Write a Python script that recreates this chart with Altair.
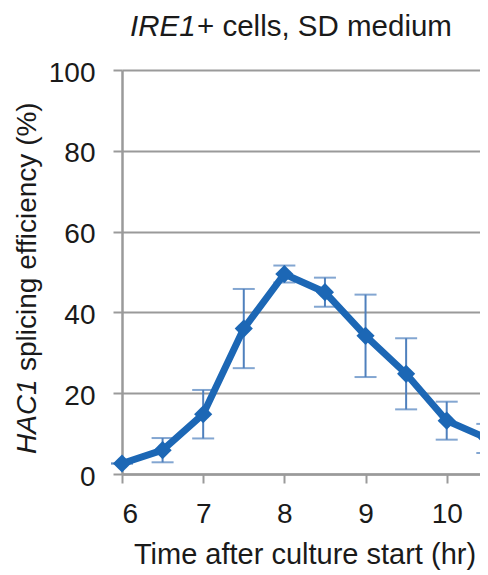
import altair as alt
import pandas as pd

# ---- data ----
time_hr = [6, 6.5, 7, 7.5, 8, 8.5, 9, 9.5, 10, 10.5]
efficiency = [2.6, 5.9, 14.8, 36.0, 49.5, 45.0, 34.2, 24.8, 13.2, 8.8]
error = [0.0, 3.0, 6.0, 9.8, 2.1, 3.6, 10.2, 8.8, 4.7, 3.6]
y_ticks = [0, 20, 40, 60, 80, 100]
x_ticks = [6, 7, 8, 9, 10]

df = pd.DataFrame({"t": time_hr, "eff": efficiency, "err": error})
df["lo"] = df["eff"] - df["err"]
df["hi"] = df["eff"] + df["err"]

FONT = "Liberation Sans"
LINE = "#1c67b5"
ERR = "#4f80bd"
GRID = "#9a9a9a"
TXT = "#1a1a1a"

W, H = 358, 404

xs = alt.Scale(domain=[6, 10.41], nice=False, zero=False)
ys = alt.Scale(domain=[0, 100], nice=False)

x_axis = alt.Axis(
    values=x_ticks, grid=False, title=None, format="d",
    domainColor=GRID, domainWidth=2.5, tickColor=GRID, tickWidth=2, tickSize=9,
    labelFont=FONT, labelFontSize=28, labelColor=TXT, labelPadding=17,
)
y_axis = alt.Axis(
    values=y_ticks, grid=True, title=None, format="d",
    gridColor=GRID, gridWidth=2, gridOpacity=1,
    domainColor=GRID, domainWidth=2.5, tickColor=GRID, tickWidth=2, tickSize=9,
    labelFont=FONT, labelFontSize=28, labelColor=TXT, labelPadding=18,
    labelOffset=3,
)

base = alt.Chart(df)

errbars = base.mark_errorbar(
    ticks={"size": 22}, thickness=2, color=ERR
).encode(
    x=alt.X("t:Q", scale=xs, axis=x_axis),
    y=alt.Y("lo:Q", scale=ys, axis=y_axis),
    y2="hi:Q",
)

line = base.mark_line(color=LINE, strokeWidth=7).encode(
    x=alt.X("t:Q", scale=xs, axis=x_axis),
    y=alt.Y("eff:Q", scale=ys, axis=y_axis),
)

points = base.mark_point(
    shape="diamond", filled=True, size=330, color=LINE, opacity=1
).encode(
    x=alt.X("t:Q", scale=xs, axis=x_axis),
    y=alt.Y("eff:Q", scale=ys, axis=y_axis),
)

one = pd.DataFrame({"a": [0]})
tb = alt.Chart(one)

title_it = tb.mark_text(
    text="IRE1", font=FONT, fontSize=29.5, fontStyle="italic",
    align="left", baseline="alphabetic", color=TXT
).encode(x=alt.value(8), y=alt.value(-34))
title_rest = tb.mark_text(
    text="+ cells, SD medium", font=FONT, fontSize=29.5,
    align="left", baseline="alphabetic", color=TXT
).encode(x=alt.value(75), y=alt.value(-34))

xtitle = tb.mark_text(
    text="Time after culture start (hr)", font=FONT, fontSize=29,
    align="center", baseline="alphabetic", color=TXT
).encode(x=alt.value(183), y=alt.value(494))

ytitle_it = tb.mark_text(
    text="HAC1", font=FONT, fontSize=28, fontStyle="italic", angle=270,
    align="left", baseline="alphabetic", color=TXT
).encode(x=alt.value(-86), y=alt.value(384))
ytitle_rest = tb.mark_text(
    text="splicing efficiency (%)", font=FONT, fontSize=28, angle=270,
    align="left", baseline="alphabetic", color=TXT
).encode(x=alt.value(-86), y=alt.value(301))

chart = (
    alt.layer(errbars, line, points, title_it, title_rest, xtitle, ytitle_it, ytitle_rest)
    .properties(
        width=W,
        height=H,
        autosize=alt.AutoSizeParams(type="none"),
        padding={"left": 114, "top": 62, "right": 0, "bottom": 101},
        background="white",
    )
    .configure_view(stroke=None)
)

chart.save("out.html", embed_options={"renderer": "svg", "actions": False})
